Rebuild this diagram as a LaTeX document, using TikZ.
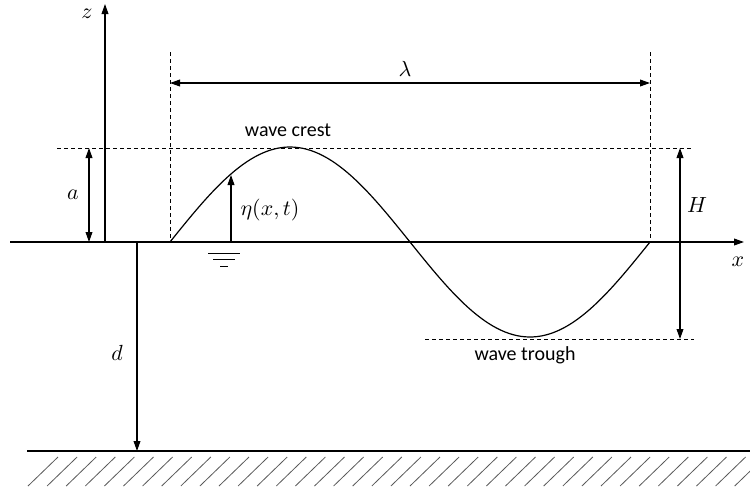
\documentclass[tikz,border=0pt]{standalone}
\usepackage{fontspec}
\setmainfont{Carlito}
\usepackage{tikz}
\usetikzlibrary{arrows.meta}

\begin{document}
\begin{tikzpicture}[
  x=0.5pt, y=-0.5pt,
  line/.style={semithick},
  arr/.style={semithick, -{Triangle[length=5pt,width=3.4pt]}},
  dbl/.style={semithick, {Triangle[length=5pt,width=3.4pt]}-{Triangle[length=5pt,width=3.4pt]}},
  guide/.style={thin, dashed, dash pattern=on 2pt off 1.5pt},
  lbl/.style={font=\fontsize{10}{12}\selectfont, inner sep=1pt},
  sym/.style={font=\fontsize{11}{13}\selectfont, inner sep=1pt},
  hatch/.style={thin, black!65}
]
\useasboundingbox (0,0) rectangle (750,488);

% reference points
\coordinate (o) at (105,242);
\coordinate (ztop) at (105,4);
\coordinate (xl) at (10,242);
\coordinate (xr) at (744,242);
\coordinate (w0) at (170,242);
\coordinate (w1) at (650,242);
\coordinate (crestL) at (57,148);
\coordinate (crestR) at (694,148);
\coordinate (troughL) at (425,339);
\coordinate (troughR) at (694,339);
\coordinate (bedL) at (27,451);
\coordinate (bedR) at (750,451);

% axes
\draw[arr] (o) -- (ztop);
\draw[arr] (xl) -- (xr);
\node[sym] (zlab) at (87,14) {$z$};
\node[sym] (xlab) at (738,262) {$x$};

% wave profile
\draw[line] plot[domain=0:360, samples=120] ({170+\x*4/3}, {242-95*sin(\x)});

% guide lines
\draw[guide] (170,52) -- (w0);
\draw[guide] (650,52) -- (w1);
\draw[guide] (crestL) -- (crestR);
\draw[guide] (troughL) -- (troughR);

% dimensions
\draw[dbl] (170,83) -- (650,83);
\node[sym] (lam) at (405,69) {$\lambda$};
\draw[dbl] (89,148) -- (89,242);
\node[sym] (alab) at (73,195) {$a$};
\draw[dbl] (680,148) -- (680,339);
\node[sym] (Hlab) at (697,205) {$H$};
\draw[arr] (231,242) -- (231,175);
\node[sym] (eta) at (270,210) {$\eta(x,t)$};
\draw[arr] (137,242) -- (137,451);
\node[sym] (dlab) at (117,353) {$d$};

\node[lbl] (crest) at (288,130) {wave crest};
\node[lbl] (trough) at (525,355) {wave trough};

% still water level
\draw[thin] (208,253) -- (240,253);
\draw[thin] (213,259) -- (235,259);
\draw[thin] (220,266) -- (228,266);

% sea bed
\draw[line] (bedL) -- (bedR);
\begin{scope}
\clip (0,452) rectangle (750,488);
\foreach \k in {0,...,38}
  \draw[hatch] ({28+19.1*\k},486) -- ({58+19.1*\k},457);
\end{scope}
\end{tikzpicture}
\end{document}
